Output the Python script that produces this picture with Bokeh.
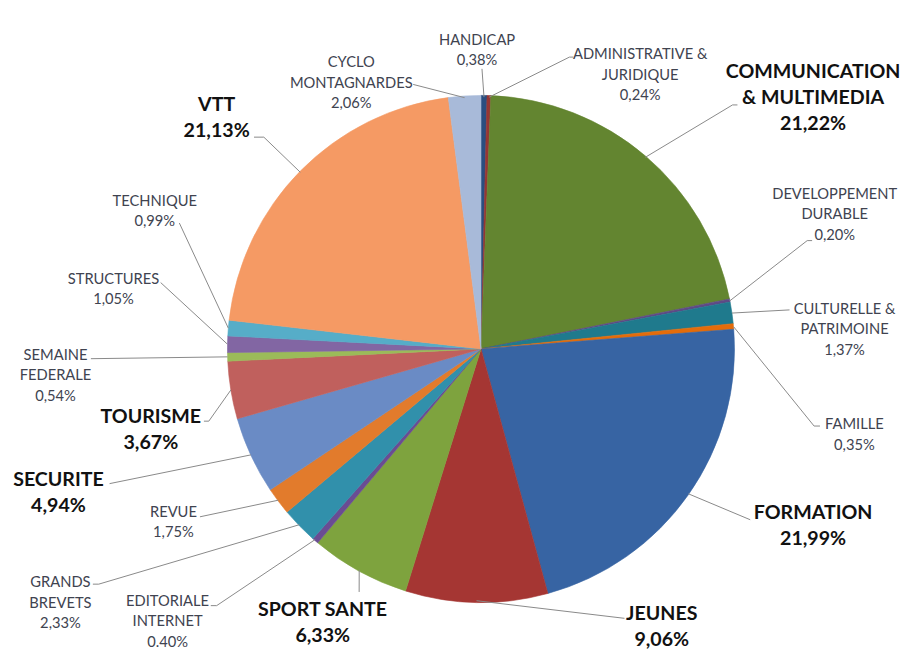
import numpy as np
from bokeh.plotting import figure
from bokeh.models import Range1d, ColumnDataSource
from bokeh.embed import file_html
from bokeh.resources import INLINE
from bokeh.core.properties import value

# ---------------- data (clockwise from 12 o'clock) ----------------
categories = ["HANDICAP", "ADMINISTRATIVE & JURIDIQUE", "COMMUNICATION & MULTIMEDIA",
              "DEVELOPPEMENT DURABLE", "CULTURELLE & PATRIMOINE", "FAMILLE", "FORMATION",
              "JEUNES", "SPORT SANTE", "EDITORIALE INTERNET", "GRANDS BREVETS", "REVUE",
              "SECURITE", "TOURISME", "SEMAINE FEDERALE", "STRUCTURES", "TECHNIQUE", "VTT",
              "CYCLO MONTAGNARDES"]
values = [0.38, 0.24, 21.22, 0.20, 1.37, 0.35, 21.99, 9.06, 6.33, 0.40, 2.33, 1.75,
          4.94, 3.67, 0.54, 1.05, 0.99, 21.13, 2.06]
pct_labels = ["0,38%", "0,24%", "21,22%", "0,20%", "1,37%", "0,35%", "21,99%", "9,06%",
              "6,33%", "0.40%", "2,33%", "1,75%", "4,94%", "3,67%", "0,54%", "1,05%",
              "0,99%", "21,13%", "2,06%"]
name_lines = [["HANDICAP"], ["ADMINISTRATIVE &", "JURIDIQUE"], ["COMMUNICATION", "& MULTIMEDIA"],
              ["DEVELOPPEMENT", "DURABLE"], ["CULTURELLE &", "PATRIMOINE"], ["FAMILLE"],
              ["FORMATION"], ["JEUNES"], ["SPORT SANTE"], ["EDITORIALE", "INTERNET"],
              ["GRANDS", "BREVETS"], ["REVUE"], ["SECURITE"], ["TOURISME"],
              ["SEMAINE", "FEDERALE"], ["STRUCTURES"], ["TECHNIQUE"], ["VTT"],
              ["CYCLO", "MONTAGNARDES"]]
bold_labels = ["COMMUNICATION & MULTIMEDIA", "FORMATION", "JEUNES", "SPORT SANTE",
               "SECURITE", "TOURISME", "VTT"]
colors = ["#2A4E80", "#973634", "#638530", "#5E4A86", "#1F7A8D", "#E46C0A", "#3764A3",
          "#A53633", "#7EA33E", "#6A4C93", "#3190AB", "#E27B2C", "#6A8BC5", "#C0605D",
          "#9BBB59", "#8266A3", "#56ADC8", "#F59A64", "#A8BAD9"]

# ---------------- layout (reference picture coordinates) ----------------
CX, CY, R = 489, 357, 258
label_pos = {  # centre x of text, centre y of first line
    "HANDICAP": (485, 39), "ADMINISTRATIVE & JURIDIQUE": (651, 54),
    "COMMUNICATION & MULTIMEDIA": (827, 72), "DEVELOPPEMENT DURABLE": (849, 197),
    "CULTURELLE & PATRIMOINE": (859, 315), "FAMILLE": (869, 433), "FORMATION": (827, 524),
    "JEUNES": (673, 627), "SPORT SANTE": (328, 623), "EDITORIALE INTERNET": (170, 614),
    "GRANDS BREVETS": (61, 595), "REVUE": (176, 523), "SECURITE": (59, 490),
    "TOURISME": (153, 425), "SEMAINE FEDERALE": (56, 362), "STRUCTURES": (115, 284),
    "TECHNIQUE": (157, 204), "VTT": (220, 106), "CYCLO MONTAGNARDES": (357, 62)}
leader_pts = {  # elbow / end points of the leader line (after the slice edge point)
    "HANDICAP": [(490, 70)], "ADMINISTRATIVE & JURIDIQUE": [(579, 58), (583, 58)],
    "COMMUNICATION & MULTIMEDIA": [(745, 107), (750, 107)],
    "DEVELOPPEMENT DURABLE": [(821, 246), (826, 246)],
    "CULTURELLE & PATRIMOINE": [(803, 317)], "FAMILLE": [(828, 436), (834, 436)],
    "FORMATION": [(763, 532)], "JEUNES": [(635, 633)], "SPORT SANTE": [(365, 606)],
    "EDITORIALE INTERNET": [(220, 620), (214, 620)], "GRANDS BREVETS": [(100, 598), (94, 598)],
    "REVUE": [(203, 529)], "SECURITE": [(111, 495)], "TOURISME": [(212, 431), (207, 431)],
    "SEMAINE FEDERALE": [(92, 367)], "STRUCTURES": [(163, 289)], "TECHNIQUE": [(182, 228)],
    "VTT": [(268, 140), (258, 140)], "CYCLO MONTAGNARDES": [(420, 86)]}

W, H = 903, 651
p = figure(width=W, height=H, x_range=Range1d(0, 919), y_range=Range1d(-667, 0),
           output_backend="svg", toolbar_location=None, min_border=0)
p.axis.visible = False
p.grid.visible = False
p.outline_line_color = None
p.background_fill_color = "white"
p.border_fill_color = "white"

frac = np.array(values) / np.sum(values)
cum = np.concatenate([[0.0], np.cumsum(frac)])
start = np.pi / 2 - 2 * np.pi * cum[:-1]
end = np.pi / 2 - 2 * np.pi * cum[1:]
mid = (start + end) / 2

src = ColumnDataSource(dict(start=start, end=end, color=colors, cat=categories))
p.wedge(x=CX, y=-CY, radius=R, start_angle="start", end_angle="end", direction="clock",
        fill_color="color", line_color="color", line_width=0.6, source=src)

# leader lines
xs, ys = [], []
for i, cat in enumerate(categories):
    ex = CX + R * np.cos(mid[i])
    ey = -CY + R * np.sin(mid[i])
    lx = [ex] + [pt[0] for pt in leader_pts[cat]]
    ly = [ey] + [-pt[1] for pt in leader_pts[cat]]
    xs.append(lx)
    ys.append(ly)
p.multi_line(xs=xs, ys=ys, line_color="#8a8a8a", line_width=1)

# labels
reg = dict(x=[], y=[], t=[])
bld = dict(x=[], y=[], t=[])
for i, cat in enumerate(categories):
    tx, ty = label_pos[cat]
    lines = name_lines[i] + [pct_labels[i]]
    is_bold = cat in bold_labels
    step = 26.5 if is_bold else 21
    d = bld if is_bold else reg
    for j, ln in enumerate(lines):
        d["x"].append(tx)
        d["y"].append(-(ty + j * step))
        d["t"].append(ln)

p.text(x="x", y="y", text="t", source=ColumnDataSource(reg), text_align="center",
       text_baseline="middle", text_font=value("Lato"), text_font_size="14.7px",
       text_color="#404350")
p.text(x="x", y="y", text="t", source=ColumnDataSource(bld), text_align="center",
       text_baseline="middle", text_font=value("Lato"), text_font_size="19.6px",
       text_font_style="bold", text_color="#111111")

open("out.html", "w").write(file_html(p, INLINE))
